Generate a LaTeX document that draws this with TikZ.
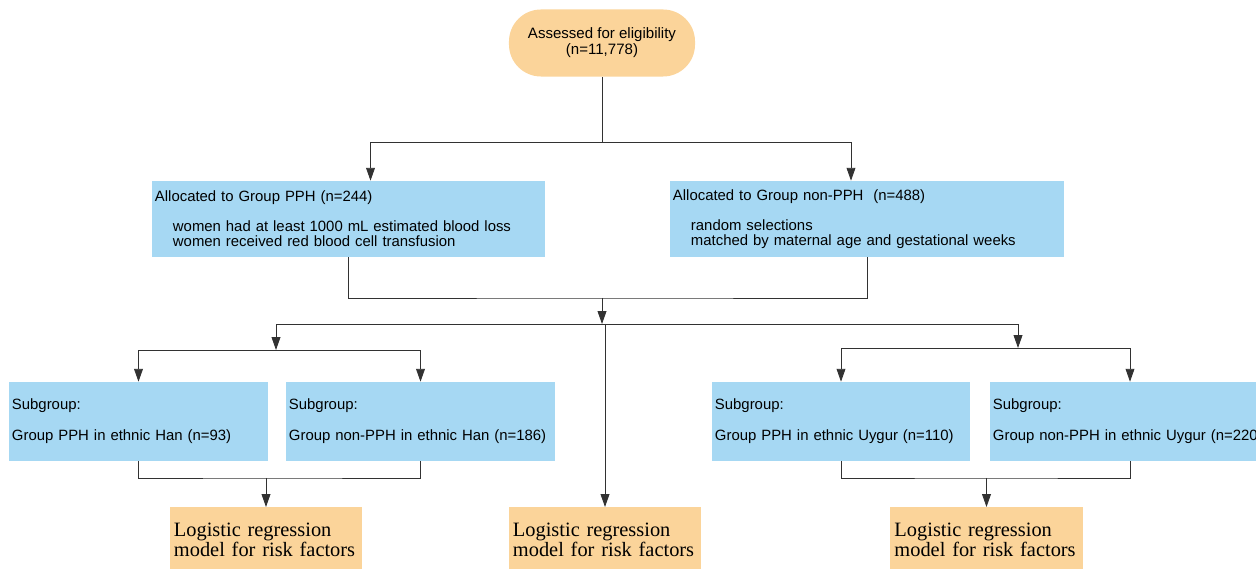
\documentclass[tikz,border=0pt]{standalone}
\usepackage{fontspec}
\setmainfont{Liberation Sans}
\newfontfamily\serifface{Liberation Serif}
\usetikzlibrary{arrows.meta}
\definecolor{boxblue}{RGB}{166,216,243}
\definecolor{boxorange}{RGB}{251,212,154}
\definecolor{linegray}{RGB}{50,50,50}
\def\drawline{\draw[color=linegray, line width=0.6pt]}
\def\drawarrow{\draw[color=linegray, line width=0.6pt, -{Triangle[length=3.2mm,width=2.2mm]}]}
\def\groupnode{\node[fill=boxblue, align=left, inner xsep=0.075cm, font=\fontsize{10.6}{10.6}\selectfont]}
\def\lognode{\node[fill=boxorange, align=left, anchor=north, inner xsep=0.1cm, inner ysep=0.4cm, text width=4.6cm, font=\serifface\fontsize{14.5}{12.5}\selectfont]}

\begin{document}
\begin{tikzpicture}[x=0.025cm, y=-0.025cm]
\useasboundingbox (0,0) rectangle (1256,569);
\node[fill=boxorange, rounded corners=0.8cm, minimum width=4.65cm, minimum height=1.675cm, align=center, font=\fontsize{10.7}{11.4}\selectfont] (assessed) at (602,43) {Assessed for eligibility\\(n=11,778)};
\groupnode[text width=9.675cm, minimum height=1.9cm] (pph) at (348.5,219) {Allocated to Group PPH (n=244)\\[10.7pt]
  \hspace*{0.45cm}women had at least 1000 mL estimated blood loss\\
  \hspace*{0.45cm}women received red blood cell transfusion};
\groupnode[text width=9.7cm, minimum height=1.9cm] (nonpph) at (867,219) {Allocated to Group non-PPH\ \ (n=488)\\[10.7pt]
  \hspace*{0.45cm}random selections\\
  \hspace*{0.45cm}matched by maternal age and gestational weeks};
\groupnode[text width=6.325cm, minimum height=1.975cm] (hanpph) at (138.5,421.5) {Subgroup:\\[11.4pt]Group PPH in ethnic Han (n=93)};
\groupnode[text width=6.575cm, minimum height=1.975cm] (hannon) at (420.5,421.5) {Subgroup:\\[11.4pt]Group non-PPH in ethnic Han (n=186)};
\groupnode[text width=6.3cm, minimum height=1.975cm] (uypph) at (841,421.5) {Subgroup:\\[11.4pt]Group PPH in ethnic Uygur (n=110)};
\groupnode[text width=6.85cm, minimum height=1.975cm] (uynon) at (1130,421.5) {Subgroup:\\[11.4pt]\mbox{Group non-PPH in ethnic Uygur (n=220)}};
\lognode (loghan) at (266,507) {Logistic regression\\model for risk factors};
\lognode (logall) at (605,507) {Logistic regression\\model for risk factors};
\lognode (loguy) at (986.5,507) {Logistic regression\\model for risk factors};
\coordinate (split) at (602,142);
\coordinate (merge) at (602,298);
\coordinate (branch) at (602,324);
\coordinate (hansplit) at (276,350);
\coordinate (uysplit) at (1018,348);
\coordinate (hanmerge) at (266,478);
\coordinate (uymerge) at (986.5,478);
\drawline (assessed) -- (split);
\drawarrow (split) -| ([xshift=0.55cm]pph.north);
\drawarrow (split) -| ([xshift=-0.4cm]nonpph.north);
\drawline (pph) |- (merge) -| (nonpph);
\drawarrow (merge) -- (branch);
\drawarrow (branch) -| (hansplit);
\drawarrow (branch) -| (uysplit);
\drawarrow (logall |- branch) -- (logall);
\drawarrow (hansplit) -| (hanpph);
\drawarrow (hansplit) -| (hannon);
\drawarrow (uysplit) -| (uypph);
\drawarrow (uysplit) -| (uynon);
\drawline (hanpph) |- (hanmerge) -| (hannon);
\drawarrow (hanmerge) -- (loghan);
\drawline (uypph) |- (uymerge) -| (uynon);
\drawarrow (uymerge) -- (loguy);
\end{tikzpicture}
\end{document}
